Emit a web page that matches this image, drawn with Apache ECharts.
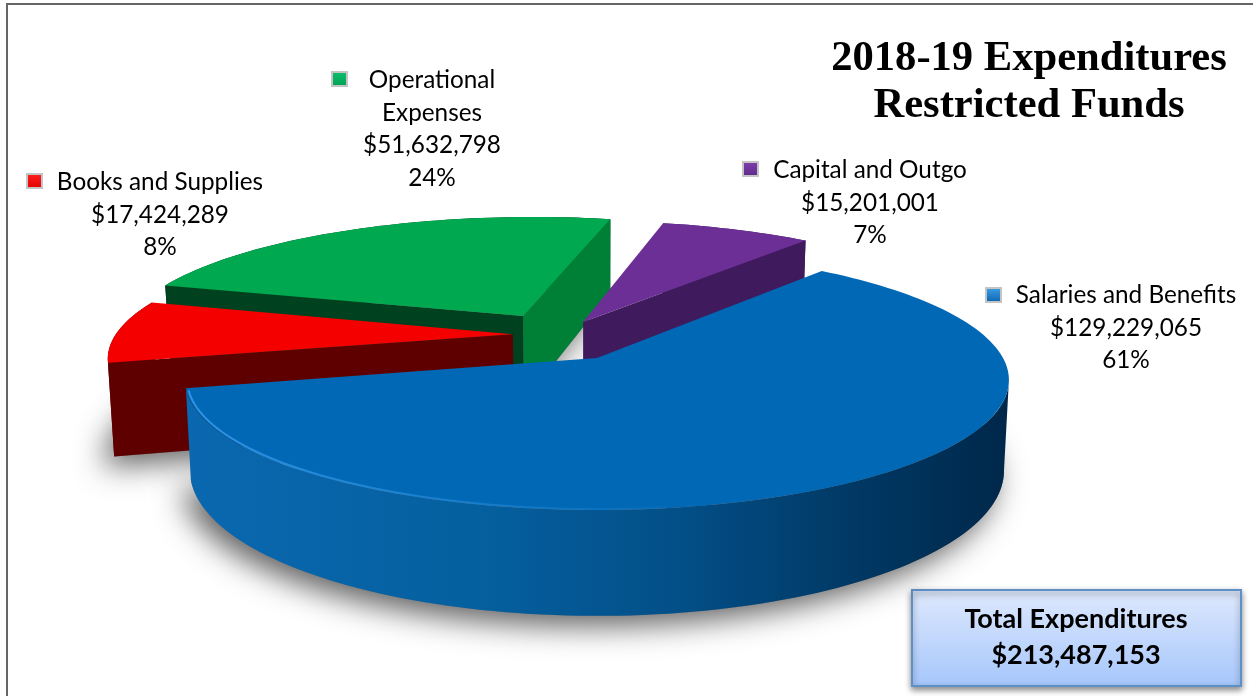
<!DOCTYPE html>
<html>
<head>
<meta charset="utf-8">
<title>2018-19 Expenditures Restricted Funds</title>
<script src="https://cdn.jsdelivr.net/npm/echarts@6/dist/echarts.min.js"></script>
<style>
  html, body { margin: 0; padding: 0; background: #fff; }
  #chart { width: 1253px; height: 696px; }
</style>
</head>
<body>
<div id="chart"></div>
<script>
// data, clockwise from the first slice
const categories = ['Salaries and Benefits', 'Books and Supplies', 'Operational\nExpenses', 'Capital and Outgo']
const amounts = [129229065, 17424289, 51632798, 15201001]
const percents = [61, 8, 24, 7]
const totalLabel = 'Total Expenditures'
const totalAmount = 213487153
const titleLines = ['2018-19 Expenditures', 'Restricted Funds']

// how far each slice is pulled out of the pie, in radii
const explodeU = [0, -0.214, -0.193, -0.036]
const explodeV = [0, -0.195, -0.352, -0.30]
const sliceScale = [1, 1.01, 1.025, 1.03]
const sliceDepth = [1, 1.06, 1.03, 1]

// slice colours
const topColors = ['#0068b5', '#f50000', '#00a84f', '#6b2f96']
const rimColors = [null, '#5f0000', '#00421f', '#3f1a5c']
const keyColors = [['#3fa2e8', '#0a62ad'], ['#ff2020', '#e00000'], ['#10c070', '#00a050'], ['#8040b0', '#5c2a86']]
const blueRimStops = ['#0a68b0', '#05609f', '#034f88', '#013a66', '#00274a']
const blueRimOffsets = [0, 0.35, 0.6, 0.8, 1]

// label block placement
const labelX = [1126, 160, 432, 870]
const labelY = [279, 166, 64, 154]
const keyX = [986, 27, 332, 743]
const keyY = [288, 174, 72, 162]

// the pie's tilted disc
const cx = 597, cy = 358, R = 406, Ry = 126.3, persp = 0.169, H = 88, taper = 0.012
const startAngle = 38.8
const drawOrder = [2, 1, 3, 0]

const sum = amounts.reduce(function (a, b) { return a + b }, 0)
const sliceStart = []
const sliceEnd = []
amounts.reduce(function (acc, v, i) {
  sliceStart[i] = acc
  sliceEnd[i] = acc + v / sum * 360
  return sliceEnd[i]
}, startAngle)

function project(u, v, z) {
  const w = 1 - persp * v
  return [cx + R * u / w * (1 - taper * z), cy + (Ry * v + H * z) / w]
}

function rimPoint(i, deg, z, r) {
  const a = deg * Math.PI / 180
  const s = (r || 1) * sliceScale[i]
  return project(explodeU[i] + s * Math.sin(a), explodeV[i] - s * Math.cos(a), z * sliceDepth[i])
}

function arc(i, from, to, z, r) {
  const pts = []
  const n = Math.max(2, Math.ceil(Math.abs(to - from) / 1.5))
  for (let k = 0; k <= n; k++) pts.push(rimPoint(i, from + (to - from) * k / n, z, r))
  return pts
}

function apex(i, z) { return project(explodeU[i], explodeV[i], z * sliceDepth[i]) }

function poly(points, fill) {
  return { type: 'polygon', shape: { points: points }, style: { fill: fill } }
}

function wall(i, deg, fill) {
  return poly([apex(i, 0), rimPoint(i, deg, 0), rimPoint(i, deg, 1), apex(i, 1)], fill)
}

// the rim is only seen from its rightmost point round to the end of the slice
function visibleFrom(i) {
  let best = sliceStart[i], bestX = -Infinity
  for (let a = sliceStart[i]; a <= sliceEnd[i]; a += 0.5) {
    const x = rimPoint(i, a, 0)[0]
    if (x > bestX) { bestX = x; best = a }
  }
  return best
}

function renderShadow(params, api) {
  const i = api.value(0)
  const el = poly([apex(i, 1)].concat(arc(i, sliceStart[i], sliceEnd[i], 1)), '#777')
  el.style.shadowBlur = 30
  el.style.shadowColor = 'rgba(0,0,0,0.62)'
  el.style.shadowOffsetX = -9
  el.style.shadowOffsetY = 10
  return el
}

function renderSlice(params, api) {
  const i = api.value(0)
  const a0 = sliceStart[i], a1 = sliceEnd[i]
  const children = []
  const rimFill = i === 0 ? {
    type: 'linear', x: 0, y: 0, x2: 1, y2: 0,
    colorStops: blueRimStops.map(function (c, k) { return { offset: blueRimOffsets[k], color: c } })
  } : rimColors[i]
  const from = i === 0 ? visibleFrom(i) : a0
  children.push(poly(arc(i, from, a1, 0).concat(arc(i, a1, from, 1)), rimFill))
  // cut faces that look towards the viewer
  if (i === 1) children.push(wall(i, a0, '#5f0000'))
  if (i === 2) {
    children.push(wall(i, a1, '#008037'))
    children.push(wall(i, a0, '#00421f'))
  }
  if (i === 3) children.push(wall(i, a1, '#3f1a5c'))
  children.push(poly([apex(i, 0)].concat(arc(i, a0, a1, 0)), topColors[i]))
  if (i === 0) {
    // the light bevel along the front edge of the blue top
    children.push({
      type: 'polyline',
      shape: { points: arc(i, a1 - 1, a1 - 85, 0, 0.995) },
      style: {
        fill: null, lineWidth: 2,
        stroke: {
          type: 'linear', x: 0, y: 0, x2: 1, y2: 0,
          colorStops: [{ offset: 0, color: '#2f93e6' }, { offset: 1, color: 'rgba(47,147,230,0.1)' }]
        }
      }
    })
  }
  return { type: 'group', children: children }
}

function renderLabel(params, api) {
  const i = api.value(0)
  const text = categories[i] + '\n$' + amounts[i].toLocaleString('en-US') + '\n' + percents[i] + '%'
  return {
    type: 'group',
    children: [
      {
        type: 'rect',
        shape: { x: keyX[i], y: keyY[i], width: 15, height: 14 },
        style: {
          fill: {
            type: 'linear', x: 0, y: 0, x2: 0, y2: 1,
            colorStops: [{ offset: 0, color: keyColors[i][0] }, { offset: 1, color: keyColors[i][1] }]
          },
          stroke: '#c4c4c4', lineWidth: 2
        }
      },
      {
        type: 'text',
        x: labelX[i], y: labelY[i],
        style: {
          text: text, fill: '#000', align: 'center', verticalAlign: 'top',
          font: '24.3px Lato', lineHeight: 32.5
        }
      }
    ]
  }
}

const chart = echarts.init(document.getElementById('chart'))
chart.setOption({
  animation: false,
  backgroundColor: '#fff',
  title: {
    text: titleLines.join('\n'),
    left: 1024, top: 30, textAlign: 'center',
    textStyle: { fontFamily: 'Liberation Serif', fontWeight: 'bold', fontSize: 42.6, lineHeight: 47, color: '#000' }
  },
  series: [
    {
      type: 'custom', coordinateSystem: 'none', silent: true, z: 1,
      data: drawOrder, renderItem: renderShadow
    },
    {
      type: 'custom', coordinateSystem: 'none', silent: true, z: 2,
      data: drawOrder, renderItem: renderSlice
    },
    {
      type: 'custom', coordinateSystem: 'none', silent: true, z: 3,
      data: drawOrder, renderItem: renderLabel
    }
  ],
  graphic: [
    {
      type: 'polyline', silent: true,
      shape: { points: [[7, 696], [7, 4], [1253, 4]] },
      style: { fill: null, stroke: '#666', lineWidth: 2 }
    },
    {
      type: 'rect', silent: true,
      shape: { x: 912, y: 590, width: 329, height: 96 },
      style: {
        fill: {
          type: 'linear', x: 0, y: 0, x2: 0, y2: 1,
          colorStops: [{ offset: 0, color: '#dfe9fd' }, { offset: 1, color: '#a5c6fb' }]
        },
        stroke: '#5e90c8', lineWidth: 2,
        shadowBlur: 6, shadowColor: 'rgba(0,0,0,0.45)', shadowOffsetY: 3
      }
    },
    {
      type: 'text', silent: true, x: 1076, y: 601,
      style: {
        text: totalLabel + '\n$' + totalAmount.toLocaleString('en-US'),
        fill: '#000', align: 'center', verticalAlign: 'top',
        font: 'bold 27px Lato', lineHeight: 36
      }
    }
  ]
})
</script>
</body>
</html>
